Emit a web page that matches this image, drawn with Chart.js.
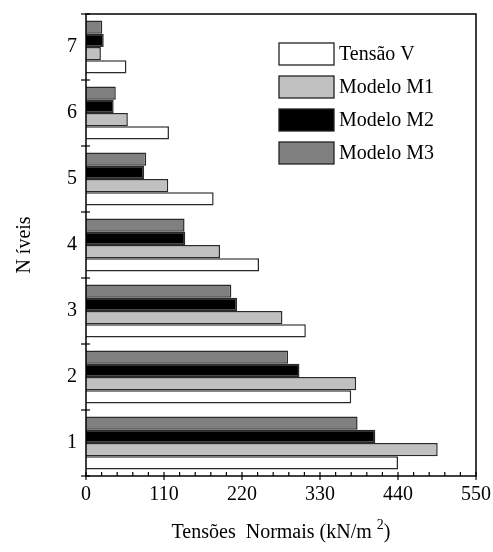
<!DOCTYPE html>
<html>
<head>
<meta charset="utf-8">
<script src="https://cdn.jsdelivr.net/npm/chart.js@4/dist/chart.umd.min.js"></script>
<style>
  html, body { margin: 0; padding: 0; background: #fff; }
  #wrap { width: 493px; height: 552px; }
</style>
</head>
<body>
<div id="wrap"><canvas id="tensoesCanvas" width="493" height="552"></canvas></div>
<script>
// niveis (de baixo para cima)
var niveis = ["1", "2", "3", "4", "5", "6", "7"];
var seriesNames = ["Tensão V", "Modelo M1", "Modelo M2", "Modelo M3"];
var tensaoV = [440, 374, 310, 244, 180, 117, 57];
var modeloM1 = [496, 381, 277, 189, 116, 59, 21];
var modeloM2 = [408, 301, 213, 140, 82, 39, 25];
var modeloM3 = [383, 285, 205, 139, 85, 42, 23];
var xTicks = [0, 110, 220, 330, 440, 550];
var xTitle = ["Tensões  Normais (kN/m ", "2", ")"];

var fills = ["#ffffff", "#c0c0c0", "#000000", "#808080"];
var serif = "'Liberation Serif', 'DejaVu Serif', serif";

// moldura, ticks, titulo x e legenda desenhados a mao
var framePlugin = {
    id: "frame",
    afterDraw: function (chart) {
        var ctx = chart.ctx;
        var a = chart.chartArea;
        var xs = chart.scales.x;
        var ys = chart.scales.y;
        ctx.save();
        ctx.strokeStyle = "#000";
        ctx.lineWidth = 1.5;
        ctx.strokeRect(a.left, a.top, a.right - a.left, a.bottom - a.top);

        ctx.lineWidth = 1.2;
        // x ticks: menores a cada 22, maiores a cada 110
        for (var v = 0; v <= 550; v += 22) {
            var px = xs.getPixelForValue(v);
            var major = xTicks.indexOf(v) >= 0;
            ctx.beginPath();
            ctx.moveTo(px, a.bottom - 4);
            ctx.lineTo(px, a.bottom + (major ? 4 : 0));
            ctx.stroke();
        }
        // y ticks nas divisas das categorias
        for (var i = 0; i <= niveis.length; i++) {
            var py = ys.getPixelForValue(i - 0.5);
            ctx.beginPath();
            ctx.moveTo(a.left - 5, py);
            ctx.lineTo(a.left + 4, py);
            ctx.stroke();
        }

        // titulo do eixo x com expoente
        ctx.fillStyle = "#000";
        ctx.textBaseline = "middle";
        ctx.textAlign = "left";
        var big = "20px " + serif, small = "14px " + serif;
        ctx.font = big;
        var w0 = ctx.measureText(xTitle[0]).width;
        var w2 = ctx.measureText(xTitle[2]).width;
        ctx.font = small;
        var w1 = ctx.measureText(xTitle[1]).width;
        var tx = (a.left + a.right) / 2 - (w0 + w1 + w2) / 2;
        var ty = 533;
        ctx.font = big;
        ctx.fillText(xTitle[0], tx, ty);
        ctx.font = small;
        ctx.fillText(xTitle[1], tx + w0, ty - 8);
        ctx.font = big;
        ctx.fillText(xTitle[2], tx + w0 + w1, ty);

        // legenda (na ordem original das series)
        var lx = a.left + 193, ly = a.top + 40;
        ctx.font = big;
        var ds = chart.data.datasets.slice().reverse();
        ds.forEach(function (d, k) {
            var cy = ly + k * 33;
            ctx.fillStyle = d.backgroundColor;
            ctx.fillRect(lx, cy - 11, 55, 22);
            ctx.strokeStyle = "#222";
            ctx.lineWidth = 1.3;
            ctx.strokeRect(lx, cy - 11, 55, 22);
            ctx.fillStyle = "#000";
            ctx.fillText(d.label, lx + 60, cy + 1);
        });
        ctx.restore();
    }
};

// ordem invertida para que Tensão V fique embaixo em cada grupo
var datasets = [tensaoV, modeloM1, modeloM2, modeloM3].map(function (d, k) {
    return {
        label: seriesNames[k],
        data: d,
        backgroundColor: fills[k],
        borderColor: "#2a2a2a",
        borderWidth: 1.5,
        categoryPercentage: 0.8,
        barPercentage: 1.0
    };
}).reverse();

var ctx = document.getElementById("tensoesCanvas");
var barChart = new Chart(ctx, {
    type: "bar",
    data: {
        labels: niveis,
        datasets: datasets
    },
    options: {
        indexAxis: "y",
        responsive: false,
        animation: false,
        layout: { padding: { left: 0, right: 17, top: 14, bottom: 0 } },
        plugins: {
            legend: { display: false },
            tooltip: { enabled: false }
        },
        scales: {
            x: {
                type: "linear",
                min: 0,
                max: 550,
                afterBuildTicks: function (scale) {
                    scale.ticks = xTicks.map(function (v) { return { value: v }; });
                },
                afterFit: function (scale) { scale.height = 76; },
                grid: { display: false },
                border: { display: false },
                ticks: {
                    color: "#000",
                    padding: -1,
                    maxRotation: 0,
                    font: { family: serif, size: 20 }
                },
                title: { display: false }
            },
            y: {
                reverse: true,
                afterFit: function (scale) { scale.width = 86; },
                grid: { display: false },
                border: { display: false },
                ticks: {
                    color: "#000",
                    padding: 1,
                    font: { family: serif, size: 20 }
                },
                title: {
                    display: true,
                    text: "N íveis",
                    color: "#000",
                    font: { family: serif, size: 20 },
                    padding: { top: 13, bottom: 0 }
                }
            }
        }
    },
    plugins: [framePlugin]
});
</script>
</body>
</html>
